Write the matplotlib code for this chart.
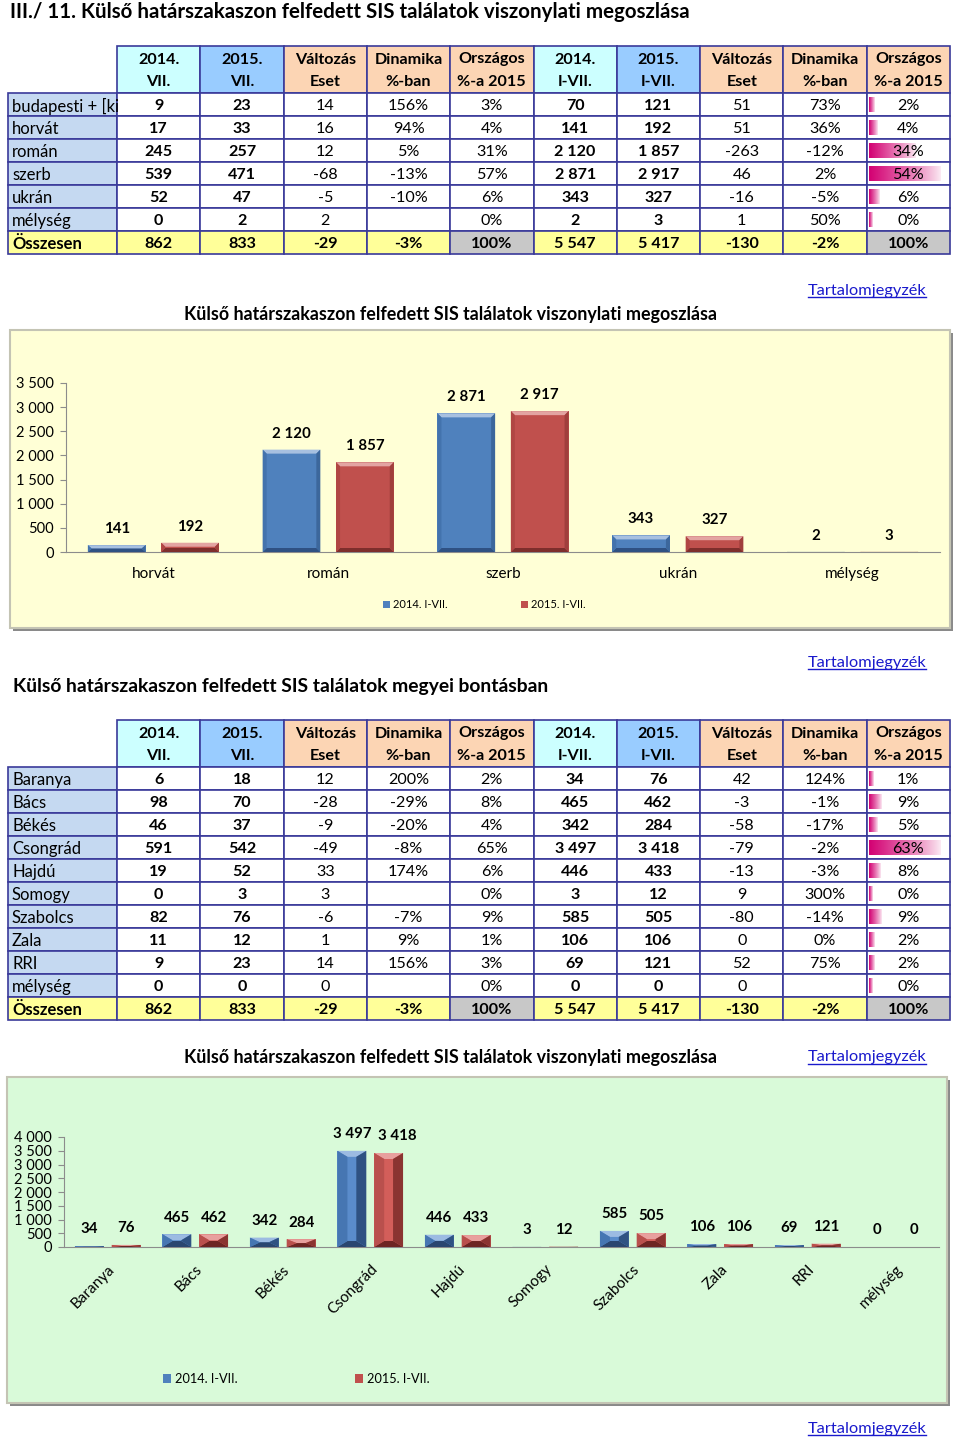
import matplotlib
matplotlib.use("Agg")
import matplotlib.pyplot as plt
from matplotlib.patches import Rectangle, Polygon, Patch
import numpy as np

plt.rcParams['font.family'] = ['Lato', 'DejaVu Sans']

# ---- table 1: viszonylati megoszlás ----
t1_labels = ["budapesti + [ki", "horvát", "román", "szerb", "ukrán", "mélység"]
t1_jul14 = [9, 17, 245, 539, 52, 0]
t1_jul15 = [23, 33, 257, 471, 47, 2]
t1_jul_chg = [14, 16, 12, -68, -5, 2]
t1_jul_dyn = [156, 94, 5, -13, -10, None]
t1_jul_share = [3, 4, 31, 57, 6, 0]
t1_ytd14 = [70, 141, 2120, 2871, 343, 2]
t1_ytd15 = [121, 192, 1857, 2917, 327, 3]
t1_ytd_chg = [51, 51, -263, 46, -16, 1]
t1_ytd_dyn = [73, 36, -12, 2, -5, 50]
t1_ytd_share = [2, 4, 34, 54, 6, 0]
t1_total = [862, 833, -29, -3, 100, 5547, 5417, -130, -2, 100]

# ---- table 2: megyei bontás ----
t2_labels = ["Baranya", "Bács", "Békés", "Csongrád", "Hajdú", "Somogy",
             "Szabolcs", "Zala", "RRI", "mélység"]
t2_jul14 = [6, 98, 46, 591, 19, 0, 82, 11, 9, 0]
t2_jul15 = [18, 70, 37, 542, 52, 3, 76, 12, 23, 0]
t2_jul_chg = [12, -28, -9, -49, 33, 3, -6, 1, 14, 0]
t2_jul_dyn = [200, -29, -20, -8, 174, None, -7, 9, 156, None]
t2_jul_share = [2, 8, 4, 65, 6, 0, 9, 1, 3, 0]
t2_ytd14 = [34, 465, 342, 3497, 446, 3, 585, 106, 69, 0]
t2_ytd15 = [76, 462, 284, 3418, 433, 12, 505, 106, 121, 0]
t2_ytd_chg = [42, -3, -58, -79, -13, 9, -80, 0, 52, 0]
t2_ytd_dyn = [124, -1, -17, -2, -3, 300, -14, 0, 75, None]
t2_ytd_share = [1, 9, 5, 63, 8, 0, 9, 2, 2, 0]
t2_total = [862, 833, -29, -3, 100, 5547, 5417, -130, -2, 100]

# chart 1 uses the table 1 rows without "budapesti"
c1_cats = t1_labels[1:]
c1_2014 = t1_ytd14[1:]
c1_2015 = t1_ytd15[1:]
c2_cats = t2_labels
c2_2014 = t2_ytd14
c2_2015 = t2_ytd15

head_top = ["2014.", "2015.", "Változás", "Dinamika", "Országos"] * 2
head_bot = ["VII.", "VII.", "Eset", "%-ban", "%-a 2015",
            "I-VII.", "I-VII.", "Eset", "%-ban", "%-a 2015"]
head_fill = ["#CCFFFF", "#99CCFF", "#FCD5B4", "#FCD5B4", "#FCD5B4"] * 2
kinds = ["n", "n", "c", "p", "s", "n", "n", "c", "p", "bar"]

W, H = 960, 1443
NAVY = "#3A3A9A"
BLUE, RED = "#4F81BD", "#C0504D"
LINK = "#1A1ACC"
TFS = 11.6   # table font size
DY = 1.5     # small baseline shift for Lato


def fmt_int(v):
    return f"{v:,}".replace(",", " ")


def fmt_pct(v):
    return "" if v is None else f"{v}%"


fig = plt.figure(figsize=(W / 100, H / 100), dpi=100)
page = fig.add_axes([0, 0, 1, 1])
page.set_xlim(0, W)
page.set_ylim(H, 0)
page.axis("off")


def cell(x, y, w, h, fc):
    page.add_patch(Rectangle((x, y), w, h, fc=fc, ec=NAVY, lw=1.2, zorder=1))


def draw_table(top, labels, cols, totals):
    lab_x, col_x, col_w = 8, 117, 83.3
    head_h, row_h = 47, 23
    for j in range(10):
        x0 = col_x + j * col_w
        cell(x0, top, col_w, head_h, head_fill[j])
        page.text(x0 + col_w / 2, top + 12 + DY, head_top[j], ha="center", va="center",
                  fontsize=TFS, fontweight="bold", zorder=4)
        page.text(x0 + col_w / 2, top + 35 + DY, head_bot[j], ha="center", va="center",
                  fontsize=TFS, fontweight="bold", zorder=4)
    bar_max = max(cols[9])
    for i, lab in enumerate(labels):
        y0 = top + head_h + i * row_h
        rect = Rectangle((lab_x, y0), col_x - lab_x, row_h, fc="#C5D9F1", ec=NAVY, lw=1.2, zorder=1)
        page.add_patch(rect)
        t = page.text(lab_x + 4, y0 + row_h / 2 + DY, lab, ha="left", va="center",
                      fontsize=TFS + 0.4, zorder=4)
        t.set_clip_path(rect)
        for j in range(10):
            x0 = col_x + j * col_w
            cell(x0, y0, col_w, row_h, "white")
            v = cols[j][i]
            if kinds[j] in ("n", "c"):
                s = fmt_int(v)
            else:
                s = fmt_pct(v)
            if kinds[j] == "bar":
                bw = (col_w - 4) * (0.04 + 0.86 * v / bar_max)
                grad = np.zeros((1, 64, 4))
                grad[0, :, 0] = 0.83
                grad[0, :, 1] = 0.0
                grad[0, :, 2] = 0.45
                grad[0, :, 3] = np.linspace(1.0, 0.05, 64) ** 0.8
                page.imshow(grad, extent=(x0 + 2, x0 + 2 + bw, y0 + row_h - 4, y0 + 4),
                            aspect="auto", zorder=2, interpolation="bilinear")
            page.text(x0 + col_w / 2, y0 + row_h / 2 + DY, s, ha="center", va="center", fontsize=TFS,
                      fontweight="bold" if kinds[j] == "n" else "normal", zorder=4)
    y0 = top + head_h + len(labels) * row_h
    cell(lab_x, y0, col_x - lab_x, row_h, "#FFFF99")
    page.text(lab_x + 4, y0 + row_h / 2 + DY, "Összesen", ha="left", va="center",
              fontsize=TFS + 0.4, fontweight="bold", zorder=4)
    for j in range(10):
        x0 = col_x + j * col_w
        gray = kinds[j] in ("s", "bar")
        cell(x0, y0, col_w, row_h, "#C8C8C8" if gray else "#FFFF99")
        s = fmt_int(totals[j]) if kinds[j] in ("n", "c") else fmt_pct(totals[j])
        page.text(x0 + col_w / 2, y0 + row_h / 2 + DY, s, ha="center", va="center",
                  fontsize=TFS, fontweight="bold", zorder=4)


draw_table(46, t1_labels,
           [t1_jul14, t1_jul15, t1_jul_chg, t1_jul_dyn, t1_jul_share,
            t1_ytd14, t1_ytd15, t1_ytd_chg, t1_ytd_dyn, t1_ytd_share], t1_total)
draw_table(720, t2_labels,
           [t2_jul14, t2_jul15, t2_jul_chg, t2_jul_dyn, t2_jul_share,
            t2_ytd14, t2_ytd15, t2_ytd_chg, t2_ytd_dyn, t2_ytd_share], t2_total)

page.set_xlim(0, W)
page.set_ylim(H, 0)

# headings
page.text(10, 11 + DY, "III./ 11. Külső határszakaszon felfedett SIS találatok viszonylati megoszlása",
          ha="left", va="center", fontsize=14.8, fontweight="bold")
page.text(450, 313 + DY, "Külső határszakaszon felfedett SIS találatok viszonylati megoszlása",
          ha="center", va="center", fontsize=12.9, fontweight="bold")
page.text(13, 685 + DY, "Külső határszakaszon felfedett SIS találatok megyei bontásban",
          ha="left", va="center", fontsize=13.9, fontweight="bold")
page.text(450, 1056 + DY, "Külső határszakaszon felfedett SIS találatok viszonylati megoszlása",
          ha="center", va="center", fontsize=12.9, fontweight="bold")
links = [page.text(867, yy + DY, "Tartalomjegyzék", ha="center", va="center", fontsize=11.8, color=LINK)
         for yy in (289, 661, 1056, 1427)]

# chart backgrounds
for (bx, by, bw, bh, fc) in [(10, 330, 940, 298, "#FFFFD6"), (7, 1077, 940, 326, "#D9FAD9")]:
    page.add_patch(Rectangle((bx + 3, by + 3), bw, bh, fc="#8A8A8A", ec="none", zorder=0))
    page.add_patch(Rectangle((bx, by), bw, bh, fc=fc, ec="#C4C4B4", lw=1.5, zorder=0.5))


def add_chart_axes(x0, y0, x1, y1):
    a = fig.add_axes([x0 / W, 1 - y1 / H, (x1 - x0) / W, (y1 - y0) / H])
    a.set_facecolor("none")
    for s in ("top", "right"):
        a.spines[s].set_visible(False)
    for s in ("left", "bottom"):
        a.spines[s].set_color("#8C8C8C")
        a.spines[s].set_linewidth(0.8)
    return a


def bevel_bars(ax, xs, hs, width, base, light, dark, left_c, right_c, bx_px, by_px):
    ax.bar(xs, hs, width, color=base, edgecolor="none", zorder=2)
    pos = ax.get_position()
    dx = (ax.get_xlim()[1] - ax.get_xlim()[0]) / (pos.width * W)
    dy = (ax.get_ylim()[1] - ax.get_ylim()[0]) / (pos.height * H)
    for x, h in zip(xs, hs):
        if h <= 0:
            continue
        x0, x1 = x - width / 2, x + width / 2
        bx = min(bx_px * dx, width / 2)
        by = min(by_px * dy, h / 2)
        polys = [
            ([(x0, h), (x1, h), (x1 - bx, h - by), (x0 + bx, h - by)], light),
            ([(x0, 0), (x1, 0), (x1 - bx, by), (x0 + bx, by)], dark),
            ([(x0, 0), (x0, h), (x0 + bx, h - by), (x0 + bx, by)], left_c),
            ([(x1, 0), (x1, h), (x1 - bx, h - by), (x1 - bx, by)], right_c),
        ]
        for pts, c in polys:
            ax.add_patch(Polygon(pts, closed=True, fc=c, ec="none", zorder=3))


def value_labels(ax, xs, vals, off, nudge=None):
    for k, (x, v) in enumerate(zip(xs, vals)):
        dx = nudge[k] if nudge else 0
        ax.annotate(fmt_int(v), (x, v), xytext=(dx, off), textcoords="offset points",
                    ha="center", va="center", fontsize=10.8, fontweight="bold")


legend_handles = [Patch(fc=BLUE, label="2014. I-VII."), Patch(fc=RED, label="2015. I-VII.")]

# chart 1
ax1 = add_chart_axes(66, 383, 940, 552)
ax1.set_xlim(-0.5, len(c1_cats) - 0.5)
ax1.set_ylim(0, 3500)
x1 = np.arange(len(c1_cats))
bevel_bars(ax1, x1 - 0.21, c1_2014, 0.33, BLUE, "#A7C0E0", "#2F5183", "#4373AD", "#3C679C", 4, 4)
bevel_bars(ax1, x1 + 0.21, c1_2015, 0.33, RED, "#E3A4A2", "#7E2E2C", "#B04643", "#A03F3C", 4, 4)
value_labels(ax1, x1 - 0.21, c1_2014, 11.5)
value_labels(ax1, x1 + 0.21, c1_2015, 11.5)
ax1.set_yticks(range(0, 3501, 500))
ax1.set_yticklabels([fmt_int(v) for v in range(0, 3501, 500)])
ax1.set_xticks(x1)
ax1.set_xticklabels(c1_cats)
ax1.tick_params(axis="y", length=4, color="#8C8C8C", labelsize=10.5, pad=5)
ax1.tick_params(axis="x", length=0, labelsize=11, pad=10.5)
ax1.legend(handles=legend_handles,
           ncol=2, loc="center left", bbox_to_anchor=(383 / W, 1 - 605 / H),
           bbox_transform=fig.transFigure, frameon=False, fontsize=8, handlelength=0.6,
           handleheight=0.6, handletextpad=0.3, columnspacing=6.6, borderpad=0, borderaxespad=0)

# chart 2
ax2 = add_chart_axes(64, 1137, 939, 1247)
ax2.set_xlim(-0.5, len(c2_cats) - 0.5)
ax2.set_ylim(0, 4000)
x2 = np.arange(len(c2_cats))
bevel_bars(ax2, x2 - 0.21, c2_2014, 0.33, "#5A8CCB", "#9CBBE2", "#2A4670", "#4676B2", "#2F5282", 10, 6)
bevel_bars(ax2, x2 + 0.21, c2_2015, 0.33, "#D35E5A", "#E8A09E", "#6E2523", "#B9504D", "#8A3431", 10, 6)
value_labels(ax2, x2 - 0.21, c2_2014, 12)
# Excel pushes the right label aside when both big labels would touch
value_labels(ax2, x2 + 0.21, c2_2015, 12,
             nudge=[6 if (a >= 1000 and b >= 1000) else 0 for a, b in zip(c2_2014, c2_2015)])
ax2.set_yticks(range(0, 4001, 500))
ax2.set_yticklabels([fmt_int(v) for v in range(0, 4001, 500)])
ax2.set_xticks(x2)
ax2.set_xticklabels(c2_cats, rotation=45, ha="right", rotation_mode="anchor")
ax2.tick_params(axis="y", length=4, color="#8C8C8C", labelsize=10.5, pad=5)
ax2.tick_params(axis="x", length=0, labelsize=11, pad=11)
ax2.legend(handles=legend_handles,
           ncol=2, loc="center left", bbox_to_anchor=(163 / W, 1 - 1379 / H),
           bbox_transform=fig.transFigure, frameon=False, fontsize=9.2, handlelength=0.6,
           handleheight=0.6, handletextpad=0.35, columnspacing=9.2, borderpad=0, borderaxespad=0)

# underline the links
fig.canvas.draw()
inv = page.transData.inverted()
for t in links:
    bb = t.get_window_extent()
    (lx0, ly), (lx1, _) = inv.transform([(bb.x0, bb.y0 + 1), (bb.x1, bb.y0)])
    page.plot([lx0, lx1], [ly, ly], color=LINK, lw=1)

fig.savefig("out.png", dpi=100)
